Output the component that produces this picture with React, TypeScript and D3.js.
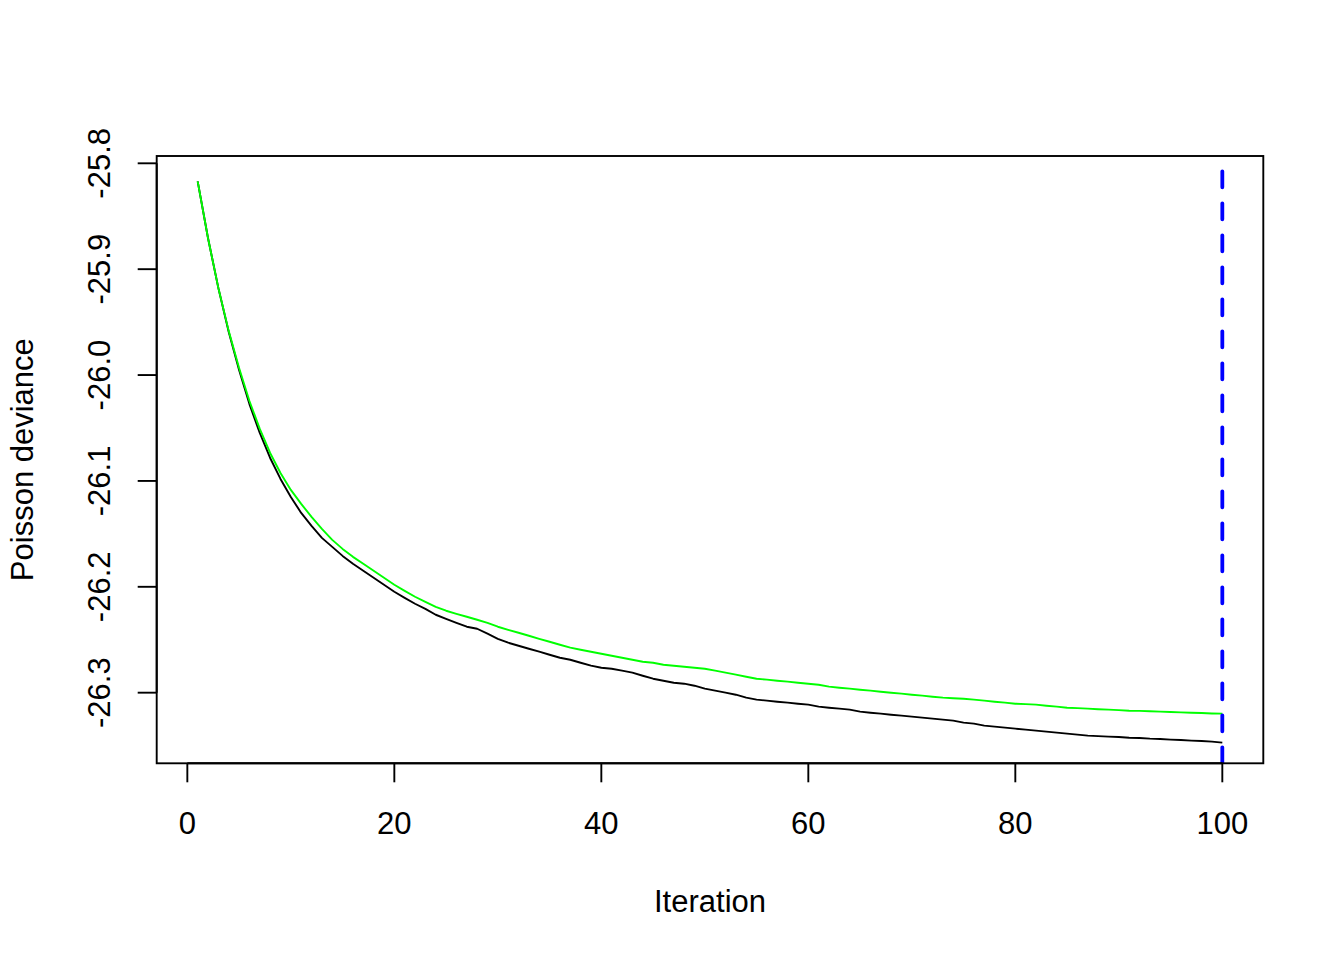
import React from "react";
import * as d3 from "d3";

// Training deviance (black) per boosting iteration 1..100
const trainDeviance: number[] = [
  -25.817, -25.8708, -25.9179, -25.9594, -25.9953, -26.0274, -26.0547, -26.0783, -26.0981, -26.1151,
  -26.1302, -26.1425, -26.1538, -26.1623, -26.1708, -26.1783, -26.1849, -26.1915, -26.1981, -26.2047,
  -26.2104, -26.216, -26.2208, -26.2264, -26.2302, -26.234, -26.2377, -26.2396, -26.2443, -26.2491,
  -26.2528, -26.2557, -26.2585, -26.2613, -26.2642, -26.267, -26.2689, -26.2717, -26.2745, -26.2764,
  -26.2774, -26.2792, -26.2811, -26.284, -26.2868, -26.2887, -26.2906, -26.2915, -26.2934, -26.2962,
  -26.2981, -26.3, -26.3019, -26.3047, -26.3066, -26.3075, -26.3085, -26.3094, -26.3104, -26.3113,
  -26.3132, -26.3142, -26.3151, -26.316, -26.3179, -26.3189, -26.3198, -26.3208, -26.3217, -26.3226,
  -26.3236, -26.3245, -26.3255, -26.3264, -26.3283, -26.3292, -26.3311, -26.3321, -26.333, -26.334,
  -26.3349, -26.3358, -26.3368, -26.3377, -26.3387, -26.3396, -26.3406, -26.341, -26.3415, -26.3418,
  -26.3425, -26.3428, -26.3434, -26.3437, -26.3443, -26.3447, -26.3453, -26.3457, -26.3462, -26.3472,
];

// Cross-validation deviance (green) per iteration 1..100
const cvDeviance: number[] = [
  -25.817, -25.8708, -25.9179, -25.9585, -25.9934, -26.0245, -26.0509, -26.0736, -26.0925, -26.1085,
  -26.1217, -26.134, -26.1453, -26.1557, -26.1642, -26.1717, -26.1783, -26.1849, -26.1915, -26.1981,
  -26.2038, -26.2094, -26.2142, -26.2189, -26.2226, -26.2255, -26.2283, -26.2311, -26.234, -26.2377,
  -26.2406, -26.2434, -26.2462, -26.2491, -26.2519, -26.2547, -26.2575, -26.2594, -26.2613, -26.2632,
  -26.2651, -26.267, -26.2689, -26.2708, -26.2717, -26.2736, -26.2745, -26.2755, -26.2764, -26.2774,
  -26.2792, -26.2811, -26.283, -26.2849, -26.2868, -26.2877, -26.2887, -26.2896, -26.2906, -26.2915,
  -26.2925, -26.2943, -26.2953, -26.2962, -26.2972, -26.2981, -26.2991, -26.3, -26.3009, -26.3019,
  -26.3028, -26.3038, -26.3047, -26.3052, -26.3057, -26.3066, -26.3075, -26.3085, -26.3094, -26.3104,
  -26.3108, -26.3113, -26.3123, -26.3132, -26.3142, -26.3146, -26.3151, -26.3156, -26.316, -26.3165,
  -26.317, -26.3172, -26.3176, -26.3179, -26.3182, -26.3186, -26.3189, -26.3192, -26.3196, -26.3198,
];

const bestIteration = 100;
const xTicks: number[] = [0, 20, 40, 60, 80, 100];
const yTicks: number[] = [-25.8, -25.9, -26.0, -26.1, -26.2, -26.3];
const xLabel = "Iteration";
const yLabel = "Poisson deviance";

const W = 1344;
const H = 960;
const left = 156.7;
const right = 1263.3;
const top = 156;
const bottom = 763.3;
const FONT = "'Liberation Sans', Arial, Helvetica, sans-serif";
const FS = 31;

export default function App() {
  const n = trainDeviance.length;
  const xr = n - 1;
  const x = d3
    .scaleLinear()
    .domain([1 - 0.04 * xr, n + 0.04 * xr])
    .range([left, right]);
  const y = d3.scaleLinear().domain([-26.3667, -25.7931]).range([bottom, top]);

  const line = d3
    .line<number>()
    .x((_, i) => x(i + 1))
    .y((d) => y(d));

  const tickLen = 19;

  return (
    <svg
      width={W}
      height={H}
      style={{ position: "absolute", left: 0, top: 0, background: "#fff" }}
      fontFamily={FONT}
    >
      <rect x={0} y={0} width={W} height={H} fill="#fff" />
      <defs>
        <clipPath id="plotclip">
          <rect x={left} y={top} width={right - left} height={bottom - top} />
        </clipPath>
      </defs>
      <g clipPath="url(#plotclip)">
        <path d={line(trainDeviance) || ""} fill="none" stroke="#000" strokeWidth={1.9} strokeLinejoin="round" />
        <path d={line(cvDeviance) || ""} fill="none" stroke="#00ff00" strokeWidth={1.9} strokeLinejoin="round" />
        <line
          x1={x(bestIteration)}
          x2={x(bestIteration)}
          y1={bottom}
          y2={top}
          stroke="#0000ff"
          strokeWidth={3.8}
          strokeDasharray="16,16"
          strokeLinecap="round"
        />
      </g>
      <rect x={left} y={top} width={right - left} height={bottom - top} fill="none" stroke="#000" strokeWidth={1.9} />

      {/* x axis */}
      <line x1={x(xTicks[0])} x2={x(xTicks[xTicks.length - 1])} y1={bottom} y2={bottom} stroke="#000" strokeWidth={1.9} />
      {xTicks.map((t) => (
        <g key={"x" + t}>
          <line x1={x(t)} x2={x(t)} y1={bottom} y2={bottom + tickLen} stroke="#000" strokeWidth={1.9} />
          <text x={x(t)} y={834} textAnchor="middle" fontSize={FS} fill="#000">
            {String(t)}
          </text>
        </g>
      ))}
      <text x={(left + right) / 2} y={911.7} textAnchor="middle" fontSize={FS} fill="#000">
        {xLabel}
      </text>

      {/* y axis */}
      <line x1={left} x2={left} y1={y(yTicks[0])} y2={y(yTicks[yTicks.length - 1])} stroke="#000" strokeWidth={1.9} />
      {yTicks.map((t) => (
        <g key={"y" + t}>
          <line x1={left - tickLen} x2={left} y1={y(t)} y2={y(t)} stroke="#000" strokeWidth={1.9} />
          <text
            transform={`translate(${110},${y(t)}) rotate(-90)`}
            textAnchor="middle"
            fontSize={FS}
            fill="#000"
          >
            {t.toFixed(1)}
          </text>
        </g>
      ))}
      <text
        transform={`translate(${33},${(top + bottom) / 2}) rotate(-90)`}
        textAnchor="middle"
        fontSize={FS}
        fill="#000"
      >
        {yLabel}
      </text>
    </svg>
  );
}
